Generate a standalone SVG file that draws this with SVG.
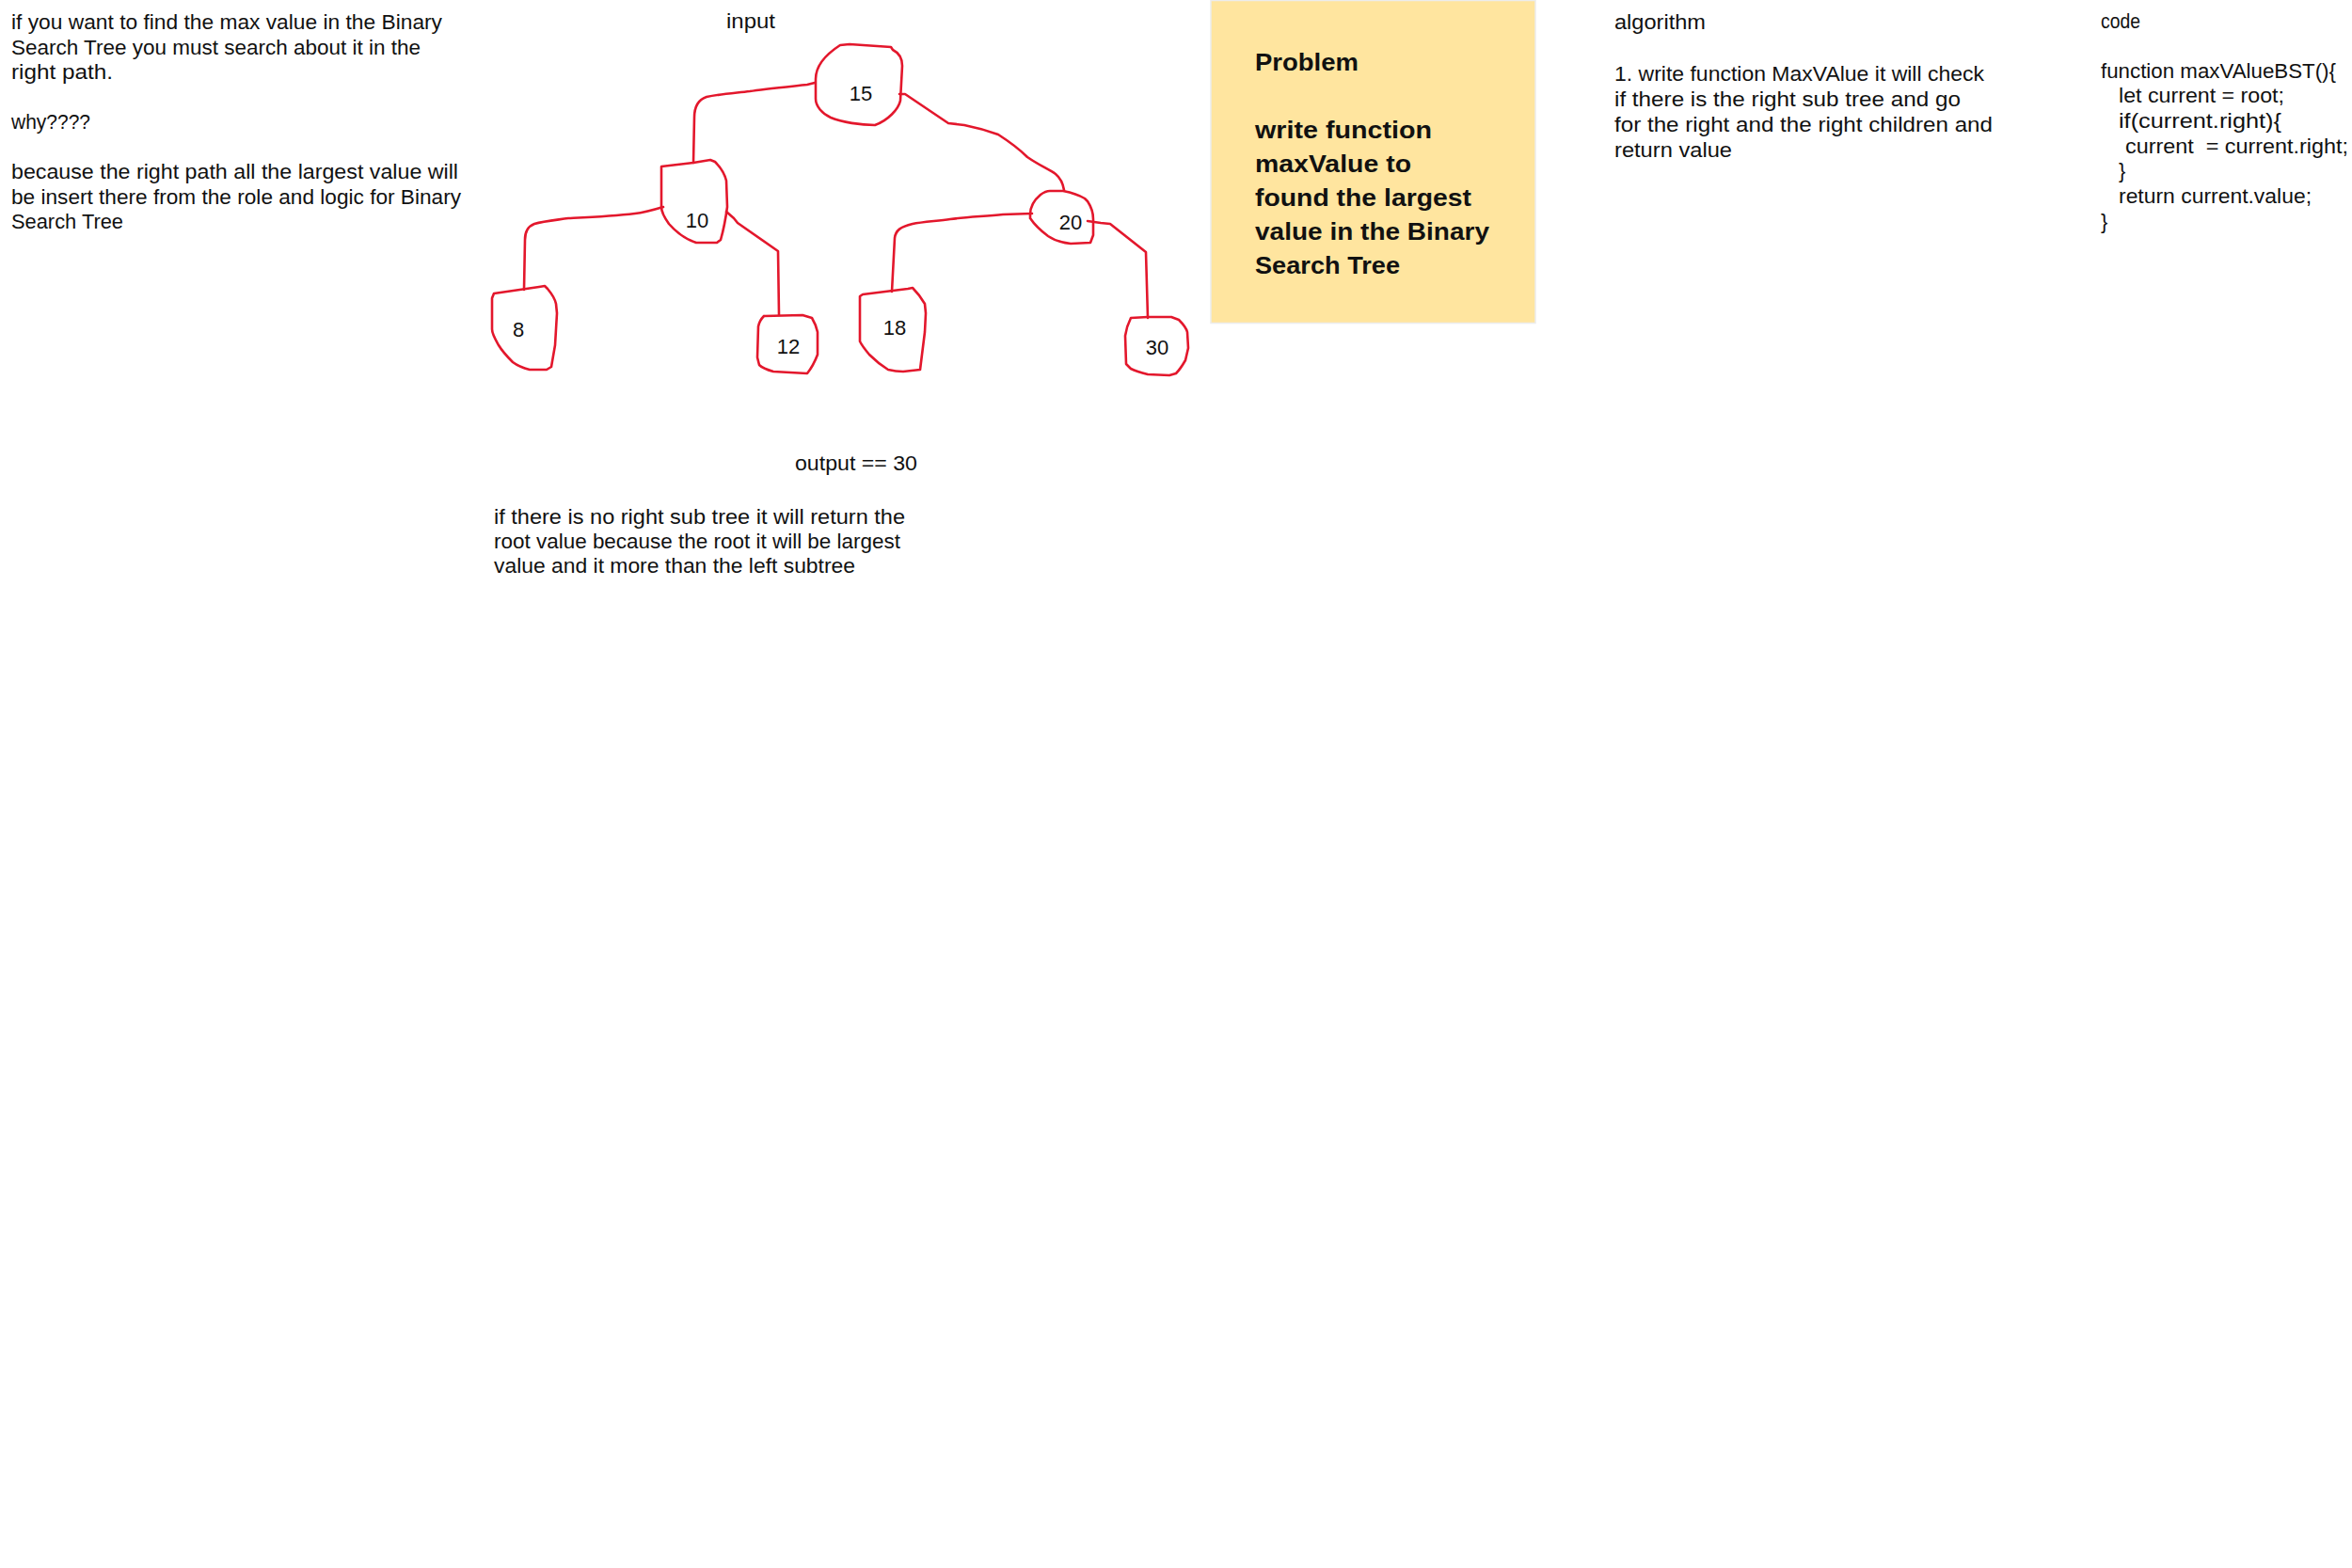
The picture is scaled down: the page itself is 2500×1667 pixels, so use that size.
<svg xmlns="http://www.w3.org/2000/svg" width="2500" height="1667" viewBox="0 0 2500 1667">
<style>
.hw{font-family:"Liberation Sans",Arial,sans-serif;font-size:22px;fill:#111;}
.num{font-family:"Liberation Sans",Arial,sans-serif;font-size:22px;fill:#111;text-anchor:middle;}
.bold{font-family:"Liberation Sans",Arial,sans-serif;font-size:26px;font-weight:bold;fill:#111;}
.node path{fill:none;stroke:#e3172c;stroke-width:2.6;stroke-linejoin:round;stroke-linecap:round;}
.conn path{fill:none;stroke:#e3172c;stroke-width:2.6;stroke-linejoin:round;stroke-linecap:round;}
</style>
<rect width="2500" height="1667" fill="#ffffff"/>

<g id="intro-text">
<text class="hw" x="12" y="31" textLength="458" lengthAdjust="spacingAndGlyphs">if you want to find the max value in the Binary</text>
<text class="hw" x="12" y="57.5" textLength="435" lengthAdjust="spacingAndGlyphs">Search Tree you must search about it in the</text>
<text class="hw" x="12" y="84" textLength="108" lengthAdjust="spacingAndGlyphs">right path.</text>
<text class="hw" x="12" y="137" textLength="84" lengthAdjust="spacingAndGlyphs">why????</text>
<text class="hw" x="12" y="190" textLength="475" lengthAdjust="spacingAndGlyphs">because the right path all the largest value will</text>
<text class="hw" x="12" y="216.5" textLength="478" lengthAdjust="spacingAndGlyphs">be insert there from the role and logic for Binary</text>
<text class="hw" x="12" y="243" textLength="119" lengthAdjust="spacingAndGlyphs">Search Tree</text>
</g>

<g id="input-label">
<text class="hw" x="772" y="30" textLength="52" lengthAdjust="spacingAndGlyphs">input</text>
</g>

<g id="connectors" class="conn">
<path d="M866,88 L858,90 C830,93 810,95 797,97 C780,99 765,100 751,103 C742,106 738,114 738,125 L737,173"/>
<path d="M956,100 L962,100 L1008,131 L1025,133 C1040,136 1050,139 1061,143 C1075,152 1085,160 1092,167 C1105,176 1115,180 1122,185 C1128,190 1130,196 1131,202"/>
<path d="M705,220 C695,223 685,226 675,227 C650,230 625,231 604,232 C590,234 578,235 568,238 C560,241 558,247 558,255 L557,308"/>
<path d="M772,225 L780,232 L784,237 L827,267 L828,335"/>
<path d="M1097,227 L1066,228 C1045,230 1025,231 1010,233 C995,235 980,236 970,238 C957,241 952,245 951,253 L948,310"/>
<path d="M1156,235 L1170,237 L1180,238 L1218,268 L1220,338"/>
</g>

<g id="node-15" class="node">
<path d="M867,105 L867,84 C867,72 876,59 893,48 L903,47 L947,50 L949,53 C955,56 959,62 959,70 L957,107 C955,116 944,128 930,133 C915,133 895,130 883,125 C874,121 867,113 867,105"/>
<text class="num" x="915" y="107">15</text>
</g>

<g id="node-10" class="node">
<path d="M703,220 L703,177 L737,173 L755,170 L760,172 C765,177 770,184 772,192 L773,220 C771,235 768,248 766,255 L762,258 L740,258 C728,254 718,246 711,238 C706,231 703,225 703,220"/>
<text class="num" x="741" y="242">10</text>
</g>

<g id="node-20" class="node">
<path d="M1095,232 L1095,228 C1095,220 1100,212 1106,207 C1110,204 1113,203 1116,203 L1130,203 C1140,205 1148,208 1153,211 L1156,214 C1160,220 1162,226 1162,233 L1162,250 L1159,258 L1138,259 C1128,258 1120,255 1114,251 C1106,245 1099,238 1095,232"/>
<text class="num" x="1138" y="244">20</text>
</g>

<g id="node-8" class="node">
<path d="M523,350 L523,317 L525,312 L573,305 L579,304 L582,307 C587,313 590,318 591,323 L592,333 L590,367 L586,390 L581,393 L563,393 C555,391 549,388 545,385 C538,378 533,372 530,367 C526,360 523,355 523,350"/>
<text class="num" x="551" y="358">8</text>
</g>

<g id="node-12" class="node">
<path d="M812,336 L853,335 L863,338 C866,343 868,348 869,353 L869,377 C866,385 862,392 858,397 L822,395 C815,393 810,391 807,388 L805,380 L806,347 C807,342 809,339 812,336"/>
<text class="num" x="838" y="376">12</text>
</g>

<g id="node-18" class="node">
<path d="M914,363 L914,315 L917,313 L965,307 L970,306 C976,312 980,318 983,323 L984,333 L983,353 L978,393 L960,395 C953,395 948,394 944,393 C936,388 929,382 924,377 C919,371 916,367 914,363"/>
<text class="num" x="951" y="356">18</text>
</g>

<g id="node-30" class="node">
<path d="M1202,338 L1220,337 L1245,337 L1253,340 C1258,345 1261,349 1262,353 L1263,370 L1260,383 C1256,390 1252,395 1250,397 L1243,399 L1220,398 C1212,396 1206,394 1202,392 L1197,387 L1196,357 C1197,350 1198,346 1202,338"/>
<text class="num" x="1230" y="377">30</text>
</g>

<g id="problem">
<rect x="1287" y="0.5" width="345" height="343" fill="#ffe59f" stroke="#ececec" stroke-width="1.5"/>
<text class="bold" x="1334" y="75" textLength="110" lengthAdjust="spacingAndGlyphs">Problem</text>
<text class="bold" x="1334" y="147" textLength="188" lengthAdjust="spacingAndGlyphs">write function</text>
<text class="bold" x="1334" y="183" textLength="166" lengthAdjust="spacingAndGlyphs">maxValue to</text>
<text class="bold" x="1334" y="219" textLength="230" lengthAdjust="spacingAndGlyphs">found the largest</text>
<text class="bold" x="1334" y="255" textLength="249" lengthAdjust="spacingAndGlyphs">value in the Binary</text>
<text class="bold" x="1334" y="291" textLength="154" lengthAdjust="spacingAndGlyphs">Search Tree</text>
</g>

<g id="algorithm">
<text class="hw" x="1716" y="31" textLength="97" lengthAdjust="spacingAndGlyphs">algorithm</text>
<text class="hw" x="1716" y="86" textLength="393" lengthAdjust="spacingAndGlyphs">1. write function MaxVAlue it will check</text>
<text class="hw" x="1716" y="113" textLength="368" lengthAdjust="spacingAndGlyphs">if there is the right sub tree and go</text>
<text class="hw" x="1716" y="140" textLength="402" lengthAdjust="spacingAndGlyphs">for the right and the right children and</text>
<text class="hw" x="1716" y="167" textLength="125" lengthAdjust="spacingAndGlyphs">return value</text>
</g>

<g id="code">
<text class="hw" x="2233" y="30" textLength="42" lengthAdjust="spacingAndGlyphs">code</text>
<text class="hw" x="2233" y="83" textLength="250" lengthAdjust="spacingAndGlyphs">function maxVAlueBST(){</text>
<text class="hw" x="2252" y="109" textLength="176" lengthAdjust="spacingAndGlyphs">let current = root;</text>
<text class="hw" x="2252" y="136" textLength="173" lengthAdjust="spacingAndGlyphs">if(current.right){</text>
<text class="hw" x="2259" y="163" textLength="237" lengthAdjust="spacingAndGlyphs" style="white-space:pre">current  = current.right;</text>
<text class="hw" x="2252" y="189">}</text>
<text class="hw" x="2252" y="216" textLength="205" lengthAdjust="spacingAndGlyphs">return current.value;</text>
<text class="hw" x="2233" y="243">}</text>
</g>

<g id="output">
<text class="hw" x="845" y="500" textLength="130" lengthAdjust="spacingAndGlyphs">output == 30</text>
<text class="hw" x="525" y="557" textLength="437" lengthAdjust="spacingAndGlyphs">if there is no right sub tree it will return the</text>
<text class="hw" x="525" y="583" textLength="432" lengthAdjust="spacingAndGlyphs">root value because the root it will be largest</text>
<text class="hw" x="525" y="609" textLength="384" lengthAdjust="spacingAndGlyphs">value and it more than the left subtree</text>
</g>
</svg>
